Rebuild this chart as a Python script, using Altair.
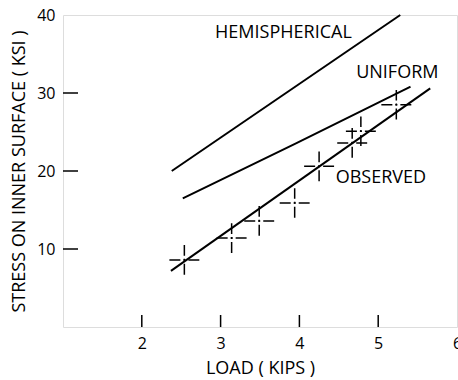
import altair as alt
import pandas as pd

# ---- data ----
hemi_x = [2.38, 5.28]
hemi_y = [20.0, 40.0]
unif_x = [2.52, 3.95, 5.41]
unif_y = [16.5, 23.5, 30.8]
obs_line_x = [2.37, 5.66]
obs_line_y = [7.2, 30.6]

obs_x = [2.54, 3.14, 3.49, 3.94, 4.25, 4.67, 4.78, 5.23]
obs_y = [8.6, 11.4, 13.6, 15.9, 20.6, 23.6, 25.1, 28.5]
obs_xerr = [0.19] * 8
obs_yerr = [1.9] * 8

label_text = ["HEMISPHERICAL", "UNIFORM", "OBSERVED"]
label_x = [2.93, 4.72, 4.46]
label_y = [37.7, 32.6, 19.1]

x_ticks = [2, 3, 4, 5, 6]
y_ticks = [10, 20, 30, 40]
x_inner_ticks = [2, 3, 4, 5]
y_inner_ticks = [10, 20, 30]

W, H = 394, 312
FONT = "Open Sans"

lines = pd.DataFrame(
    [{"s": "hemi", "x": a, "y": b} for a, b in zip(hemi_x, hemi_y)]
    + [{"s": "unif", "x": a, "y": b} for a, b in zip(unif_x, unif_y)]
    + [{"s": "obs", "x": a, "y": b} for a, b in zip(obs_line_x, obs_line_y)]
)
pts = pd.DataFrame({"x": obs_x, "y": obs_y, "xe": obs_xerr, "ye": obs_yerr})
pts["xlo"] = pts.x - pts.xe
pts["xhi"] = pts.x + pts.xe
pts["ylo"] = pts.y - pts.ye
pts["yhi"] = pts.y + pts.ye
labels = pd.DataFrame({"t": label_text, "x": label_x, "y": label_y})

xs = alt.Scale(domain=[1, 6], nice=False)
ys = alt.Scale(domain=[0, 40], nice=False)

xaxis = alt.Axis(values=x_ticks, format="d", ticks=False, domain=False, grid=False,
                 labelFont=FONT, labelFontSize=16, labelColor="black",
                 labelPadding=8, title="LOAD ( KIPS )", titleFont=FONT,
                 titleFontSize=18, titleFontWeight="normal", titleColor="black",
                 titlePadding=8, labelFlush=False)
yaxis = alt.Axis(values=y_ticks, format="d", ticks=False, domain=False, grid=False,
                 labelFont=FONT, labelFontSize=16, labelColor="black",
                 labelPadding=8, title="STRESS ON INNER SURFACE ( KSI )",
                 titleFont=FONT, titleFontSize=18, titleFontWeight="normal",
                 titleColor="black", titlePadding=8, labelFlush=False)

base_lines = alt.Chart(lines).mark_line(color="black", strokeWidth=2, interpolate="monotone").encode(
    x=alt.X("x:Q", scale=xs, axis=xaxis),
    y=alt.Y("y:Q", scale=ys, axis=yaxis),
    detail="s:N",
)

dash = [11, 3, 2, 3, 11, 60]
hbars = alt.Chart(pts).mark_rule(color="black", strokeWidth=1.5, strokeDash=dash).encode(
    x=alt.X("xlo:Q", scale=xs), x2="xhi:Q", y=alt.Y("y:Q", scale=ys)
)
vbars = alt.Chart(pts).mark_rule(color="black", strokeWidth=1.5, strokeDash=dash).encode(
    y=alt.Y("ylo:Q", scale=ys), y2="yhi:Q", x=alt.X("x:Q", scale=xs)
)

text = alt.Chart(labels).mark_text(align="left", baseline="middle", font=FONT,
                                   fontSize=18, color="black").encode(
    x=alt.X("x:Q", scale=xs), y=alt.Y("y:Q", scale=ys), text="t:N"
)

ytk = alt.Chart(pd.DataFrame({"v": y_inner_ticks})).mark_rule(color="black", strokeWidth=1.5).encode(
    y=alt.Y("v:Q", scale=ys), x=alt.value(0), x2=alt.value(15)
)
xtk = alt.Chart(pd.DataFrame({"v": x_inner_ticks})).mark_rule(color="black", strokeWidth=1.5).encode(
    x=alt.X("v:Q", scale=xs), y=alt.value(H), y2=alt.value(H - 12)
)

chart = alt.layer(base_lines, hbars, vbars, text, ytk, xtk).properties(
    width=W, height=H,
    autosize=alt.AutoSizeParams(type="none"),
    padding={"left": 63, "top": 15, "right": 1, "bottom": 53},
).configure_view(stroke="black", strokeWidth=2).configure(background="white")

chart.save("out.html", embed_options={"renderer": "svg", "actions": False})
